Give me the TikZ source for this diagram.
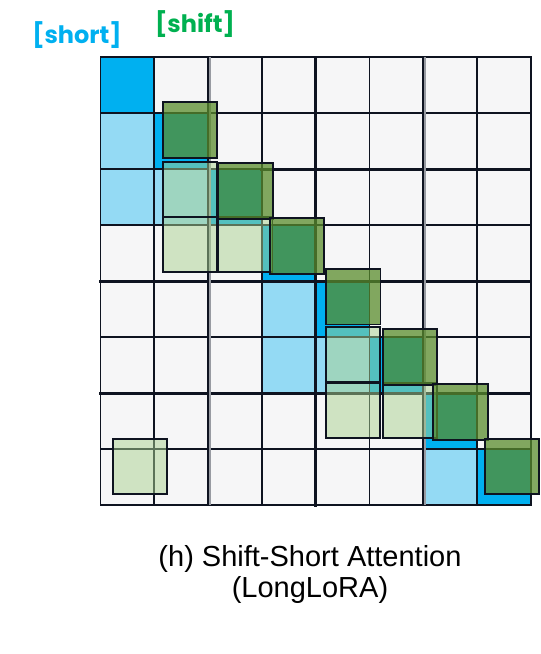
\documentclass[tikz,border=0pt]{standalone}
\usepackage{fontspec}
\setmainfont{Liberation Sans}
\newfontfamily\tagfont{Poppins}
\usepackage{tikz}

\definecolor{shortblue}{RGB}{0,176,240}
\definecolor{shortlight}{RGB}{148,218,244}
\definecolor{shiftdark}{RGB}{89,140,43}
\definecolor{shiftlight}{RGB}{169,209,142}
\definecolor{shiftlabel}{RGB}{0,176,80}
\definecolor{cellgray}{RGB}{246,246,247}
\definecolor{gridink}{RGB}{14,19,32}
\definecolor{gridgray}{RGB}{152,155,162}

\begin{document}
\begin{tikzpicture}[x=1bp,y=-1bp,
    gridline/.style={gridink,line width=1.8bp,line cap=rect},
    gridheavy/.style={gridink,line width=3bp,line cap=rect},
    darkbox/.style={draw=gridink,line width=1.7bp,fill=shiftdark,fill opacity=0.74},
    lightbox/.style={draw=gridink,line width=1.7bp,fill=shiftlight,fill opacity=0.5},
    tag/.style={font=\tagfont\bfseries\fontsize{24bp}{26bp}\selectfont}]
     \useasboundingbox (0,0) rectangle (541,654);

     % 8x8 attention grid
     \begin{scope}[shift={(100.5,57.3)},x=53.8bp,y=-56bp]
          \fill[cellgray] (0,0) rectangle (8,8);
          % short attention, groups of 3,3,2
          \foreach \c/\r in {0/1,0/2,1/2,3/4,3/5,4/5,6/7}
               \fill[shortlight] (\c,\r) rectangle ++(1,1);
          \foreach \i in {0,...,7}
               \fill[shortblue] (\i,\i) rectangle ++(1,1);
          % cell borders
          \foreach \i in {0,...,8} {
               \draw[gridline] (\i,0) -- (\i,8);
               \draw[gridline] (0,\i) -- (8,\i);
          }
          \draw[gridheavy] (4,0) -- (4,8) (0,4) -- (8,4)
               (0,6) -- (8,6) (3,2) -- (8,2);
     \end{scope}
     \draw[gridgray,line width=1.5bp] (209.8,57.3) -- (209.8,505.3);
     \draw[gridgray,line width=1.5bp] (425,57.3) -- (425,505.3);

     % shifted groups
     \foreach \x/\y in {162.7/161.7,162.7/216.7,218.3/216.7,326/327.3,
                        326/382.7,382.7/383.3,112.7/438.7}
          \draw[lightbox] (\x,\y) rectangle ++(54.3,55);
     \foreach \x/\y in {162.7/102.3,218.3/163.3,269.7/218.3,326/269,
                        382.7/329.3,433.3/384.3,484.7/438.7}
          \draw[darkbox] (\x,\y) rectangle ++(54.5,55.5);

     % labels
     \node[tag,text=shortblue] (shortlbl) at (77,35) {[short]};
     \node[tag,text=shiftlabel] (shiftlbl) at (195,24) {[shift]};

     % caption
     \node[anchor=north,inner sep=0pt,align=center,
          font=\fontsize{29bp}{31bp}\selectfont] (caption) at (310,545)
          {(h) Shift-Short Attention\\(LongLoRA)};
\end{tikzpicture}
\end{document}
